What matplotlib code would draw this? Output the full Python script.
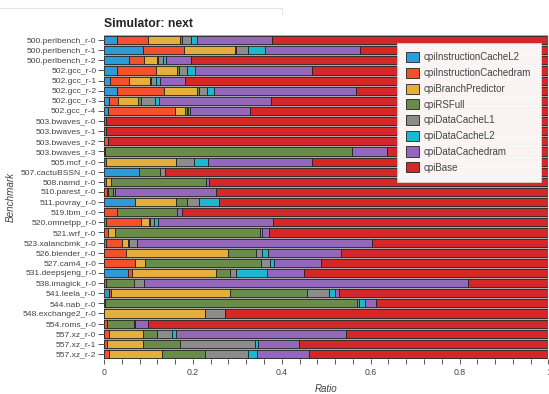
import matplotlib
matplotlib.use("Agg")
import matplotlib.pyplot as plt
import numpy as np
from matplotlib.lines import Line2D

plt.rcParams['font.family'] = ['Liberation Sans', 'DejaVu Sans']

benchmarks = [
    "500.perlbench_r-0", "500.perlbench_r-1", "500.perlbench_r-2",
    "502.gcc_r-0", "502.gcc_r-1", "502.gcc_r-2", "502.gcc_r-3", "502.gcc_r-4",
    "503.bwaves_r-0", "503.bwaves_r-1", "503.bwaves_r-2", "503.bwaves_r-3",
    "505.mcf_r-0", "507.cactuBSSN_r-0", "508.namd_r-0", "510.parest_r-0",
    "511.povray_r-0", "519.lbm_r-0", "520.omnetpp_r-0", "521.wrf_r-0",
    "523.xalancbmk_r-0", "526.blender_r-0", "527.cam4_r-0", "531.deepsjeng_r-0",
    "538.imagick_r-0", "541.leela_r-0", "544.nab_r-0", "548.exchange2_r-0",
    "554.roms_r-0", "557.xz_r-0", "557.xz_r-1", "557.xz_r-2",
]

cpiInstructionCacheL2 = [
    0.029, 0.088, 0.056, 0.029, 0.013, 0.029, 0.011, 0.010,
    0.0, 0.0, 0.0, 0.0, 0.004, 0.079, 0.0, 0.0,
    0.069, 0.0, 0.004, 0.0, 0.004, 0.0, 0.0, 0.054,
    0.0, 0.011, 0.002, 0.0, 0.0, 0.0, 0.0, 0.0,
]
cpiInstructionCachedram = [
    0.070, 0.092, 0.034, 0.088, 0.043, 0.106, 0.020, 0.150,
    0.005, 0.004, 0.009, 0.003, 0.0, 0.0, 0.004, 0.006,
    0.0, 0.030, 0.079, 0.009, 0.036, 0.050, 0.069, 0.010,
    0.005, 0.0055, 0.0, 0.0, 0.007, 0.0105, 0.007, 0.0105,
]
cpiBranchPredictor = [
    0.072, 0.114, 0.029, 0.048, 0.047, 0.074, 0.045, 0.0225,
    0.0, 0.0, 0.0, 0.0, 0.157, 0.0, 0.011, 0.004,
    0.094, 0.0, 0.018, 0.015, 0.013, 0.229, 0.0225, 0.189,
    0.0, 0.268, 0.0, 0.228, 0.0, 0.077, 0.081, 0.120,
]
cpiRSFull = [
    0.004, 0.004, 0.003, 0.004, 0.002, 0.0045, 0.008, 0.004,
    0.0, 0.0, 0.0, 0.555, 0.0, 0.047, 0.215, 0.010,
    0.024, 0.135, 0.002, 0.326, 0.003, 0.062, 0.2625, 0.030,
    0.0615, 0.1725, 0.567, 0.0, 0.060, 0.0315, 0.0825, 0.096,
]
cpiDataCacheL1 = [
    0.021, 0.025, 0.010, 0.018, 0.012, 0.018, 0.030, 0.003,
    0.0, 0.0, 0.0, 0.0, 0.042, 0.011, 0.0, 0.004,
    0.027, 0.0, 0.010, 0.002, 0.019, 0.0135, 0.019, 0.015,
    0.023, 0.0485, 0.004, 0.045, 0.002, 0.0345, 0.169, 0.0975,
]
cpiDataCacheL2 = [
    0.0135, 0.039, 0.0075, 0.017, 0.010, 0.016, 0.010, 0.005,
    0.0, 0.0, 0.0, 0.0, 0.0315, 0.0, 0.0, 0.0,
    0.045, 0.0, 0.008, 0.004, 0.0, 0.0135, 0.0097, 0.069,
    0.0, 0.0145, 0.0135, 0.0, 0.0, 0.009, 0.006, 0.021,
]
cpiDataCachedram = [
    0.169, 0.215, 0.057, 0.265, 0.056, 0.319, 0.251, 0.133,
    0.0, 0.0, 0.0, 0.079, 0.234, 0.0, 0.006, 0.229,
    0.0, 0.011, 0.259, 0.016, 0.529, 0.165, 0.106, 0.0825,
    0.730, 0.0097, 0.026, 0.0, 0.030, 0.383, 0.093, 0.1155,
]
cpiBase = [
    0.622, 0.423, 0.804, 0.531, 0.817, 0.434, 0.625, 0.673,
    0.995, 0.996, 0.991, 0.363, 0.532, 0.863, 0.764, 0.747,
    0.741, 0.824, 0.620, 0.628, 0.396, 0.467, 0.511, 0.551,
    0.180, 0.470, 0.388, 0.727, 0.901, 0.454, 0.562, 0.540,
]

series = [
    ("cpiInstructionCacheL2", cpiInstructionCacheL2, "#2f9ad8"),
    ("cpiInstructionCachedram", cpiInstructionCachedram, "#f4502c"),
    ("cpiBranchPredictor", cpiBranchPredictor, "#e6ae3a"),
    ("cpiRSFull", cpiRSFull, "#6a8c4b"),
    ("cpiDataCacheL1", cpiDataCacheL1, "#8c8c8c"),
    ("cpiDataCacheL2", cpiDataCacheL2, "#1bb9cf"),
    ("cpiDataCachedram", cpiDataCachedram, "#9467bd"),
    ("cpiBase", cpiBase, "#d62728"),
]

fig = plt.figure(figsize=(5.49, 3.94), dpi=100)
ax = fig.add_axes([0.1894, 0.0888, 0.8096, 0.8222])
ax.set_facecolor("#a8a8a8")

y = np.arange(len(benchmarks))
left = np.zeros(len(benchmarks))
for name, vals, color in series:
    vals = np.asarray(vals)
    ax.barh(y, vals, left=left, height=0.8, color=color, edgecolor="#222222",
            linewidth=0.6, label=name)
    left += vals

ax.set_xlim(0, 1)
ax.set_ylim(len(benchmarks) - 0.5, -0.5)
ax.set_yticks(y)
ax.set_yticklabels(benchmarks)
ax.set_xticks([0, 0.2, 0.4, 0.6, 0.8, 1.0])
ax.set_xticklabels(["0", "0.2", "0.4", "0.6", "0.8", "1"])
ax.set_xticks(np.arange(0, 1.0001, 0.04), minor=True)
ax.tick_params(axis="y", labelsize=6.1, colors="#555555", labelcolor="#444444",
               length=4, width=0.7, pad=1.5)
ax.tick_params(axis="x", which="both", labelsize=6.3, colors="#555555",
               labelcolor="#444444", length=3.5, width=0.7, pad=3)
for s in ax.spines.values():
    s.set_visible(False)

ax.set_xlabel("Ratio", fontsize=7, style="italic", color="#444444", labelpad=5)
ax.set_ylabel("Benchmark", fontsize=7.1, style="italic", color="#444444", labelpad=4)
ax.set_title("Simulator: next", loc="left", fontsize=8.7, fontweight="bold",
             color="#222222", pad=6)

leg = ax.legend(loc="upper right", fontsize=7, frameon=True, fancybox=False,
                borderpad=0.95, labelspacing=0.55, handlelength=1.27,
                handleheight=1.24, handletextpad=0.55, borderaxespad=0.8)
leg.get_frame().set_facecolor("white")
leg.get_frame().set_alpha(0.95)
leg.get_frame().set_edgecolor("#dddddd")
leg.get_frame().set_linewidth(0.5)
for t in leg.get_texts():
    t.set_color("#444444")

# faint outline of a neighbouring panel at the top
fig.add_artist(Line2D([0.0, 0.513, 0.513], [0.979, 0.979, 0.965],
                      transform=fig.transFigure, color="#e4e4e4", linewidth=0.8))

fig.savefig("out.png", dpi=100)
